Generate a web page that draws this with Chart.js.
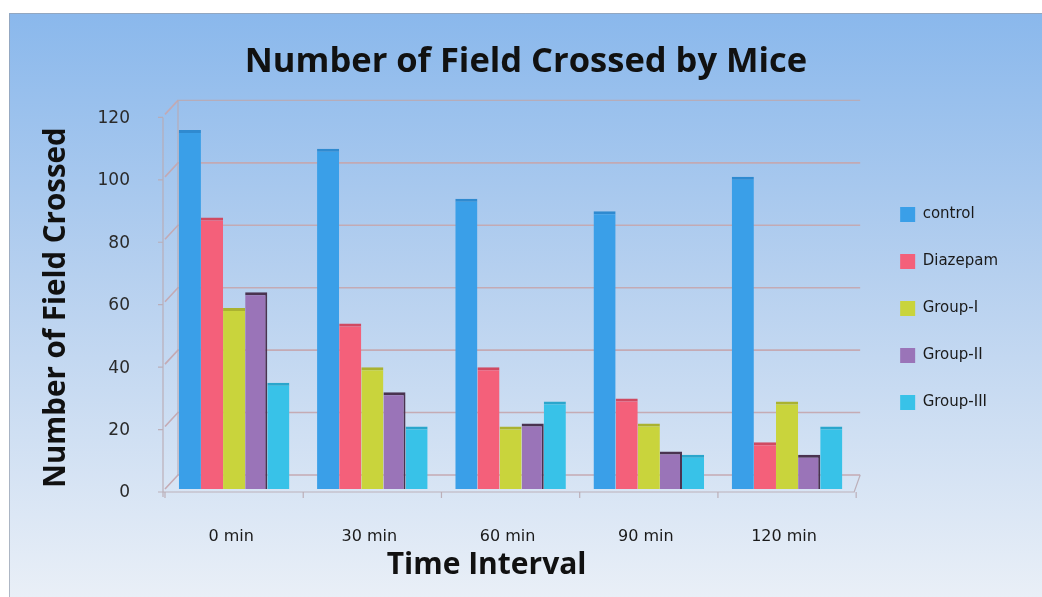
<!DOCTYPE html>
<html>
<head>
<meta charset="utf-8">
<title>Number of Field Crossed by Mice</title>
<script src="https://cdn.jsdelivr.net/npm/chart.js@4.4.1/dist/chart.umd.min.js"></script>
<style>
  html, body { margin: 0; padding: 0; background: #ffffff; overflow: hidden; }
  canvas { display: block; }
</style>
</head>
<body>
<canvas id="chart" width="1042" height="597"></canvas>
<script>
// Categories and series (number of fields crossed)
const timeLabels = ['0 min', '30 min', '60 min', '90 min', '120 min'];
const control  = [115, 109, 93, 89, 100];
const diazepam = [87, 53, 39, 29, 15];
const groupI   = [58, 39, 20, 21, 28];
const groupII  = [63, 31, 21, 12, 11];
const groupIII = [34, 20, 28, 11, 20];
const yTickValues = [0, 20, 40, 60, 80, 100, 120];

const seriesNames  = ['control', 'Diazepam', 'Group-I', 'Group-II', 'Group-III'];
const seriesData   = [control, diazepam, groupI, groupII, groupIII];
const seriesFill   = ['#3a9fe8', '#f4607a', '#c9d43c', '#9a74b8', '#38c2e8'];
const seriesTop    = ['#2f8ad0', '#d04a62', '#aab230', '#4a3350', '#2aa6cc'];

const LABEL_FONT = 'DejaVu Sans, Verdana, sans-serif';
const HEAD_FONT = '"Open Sans", Lato, sans-serif';

// Panel background: light-blue gradient fading toward the bottom
const panelBackground = {
  id: 'panelBackground',
  beforeDraw(chart) {
    const { ctx, width, height } = chart;
    ctx.save();
    ctx.fillStyle = '#ffffff';
    ctx.fillRect(0, 0, width, height);
    const g = ctx.createLinearGradient(0, 13, 0, height);
    g.addColorStop(0, '#8ab8ec');
    g.addColorStop(0.45, '#b6d0ef');
    g.addColorStop(1, '#e9eff7');
    ctx.fillStyle = g;
    ctx.fillRect(9, 13, width - 9, height - 13);
    ctx.strokeStyle = 'rgba(150,160,175,0.7)';
    ctx.lineWidth = 1;
    ctx.beginPath();
    ctx.moveTo(9.5, height);
    ctx.lineTo(9.5, 13.5);
    ctx.lineTo(width, 13.5);
    ctx.stroke();
    ctx.restore();
  }
};

// Fine placement of the side boxes: the main title is centred on the whole
// panel, the legend sits a little further right and lower, and the axis
// titles are nudged toward their printed positions.
const shiftMethod = (obj, name, dx, dy) => {
  const orig = obj[name];
  obj[name] = function () {
    this.ctx.save();
    this.ctx.translate(dx, dy);
    orig.apply(this, arguments);
    this.ctx.restore();
  };
};
const boxNudge = {
  id: 'boxNudge',
  afterLayout(chart) {
    const lg = chart.legend;
    if (lg) {
      lg.left += 12; lg.right += 12;
      lg.top += 10; lg.bottom += 10;
    }
    const tb = chart.titleBlock;
    if (tb) {
      const centre = (chart.width + 10) / 2;
      const dx = centre - (tb.left + tb.right) / 2;
      tb.left += dx; tb.right += dx;
    }
    const { x: xs, y: ys } = chart.scales;
    if (xs && !xs._titleShifted) { shiftMethod(xs, 'drawTitle', -24, 0); xs._titleShifted = true; }
    if (ys && !ys._titleShifted) { shiftMethod(ys, 'drawTitle', 0, 6); ys._titleShifted = true; }
  }
};

// Back wall, floor and gridlines drawn in a shallow 3-D perspective
const DEPTH_X = 13, DEPTH_Y = 14;
const wallGrid = {
  id: 'wallGrid',
  beforeDatasetsDraw(chart) {
    const { ctx, chartArea: a, scales: { x, y } } = chart;
    const y0 = y.getPixelForValue(0);
    const yTop = y.getPixelForValue(120);
    ctx.save();
    ctx.lineWidth = 1.6;
    ctx.strokeStyle = 'rgba(196,168,176,0.95)';
    yTickValues.forEach(v => {
      const py = y.getPixelForValue(v);
      ctx.beginPath();
      ctx.moveTo(a.left, py);
      ctx.lineTo(a.left + DEPTH_X, py - DEPTH_Y);
      if (v < 120) ctx.lineTo(a.right + 4, py - DEPTH_Y);
      ctx.stroke();
    });
    // back wall edges
    ctx.strokeStyle = 'rgba(185,170,178,0.9)';
    ctx.lineWidth = 1.2;
    ctx.beginPath();
    ctx.moveTo(a.left + DEPTH_X, y0 - DEPTH_Y);
    ctx.lineTo(a.left + DEPTH_X, yTop - DEPTH_Y);
    ctx.lineTo(a.right + 4, yTop - DEPTH_Y);
    ctx.stroke();
    // floor
    ctx.beginPath();
    ctx.moveTo(a.left - 2, y0 + 3);
    ctx.lineTo(a.right - 2, y0 + 3);
    ctx.lineTo(a.right + 4, y0 - DEPTH_Y);
    ctx.stroke();
    // front vertical axis with ticks
    ctx.beginPath();
    ctx.moveTo(a.left - 2, yTop + 3);
    ctx.lineTo(a.left - 2, y0 + 8);
    yTickValues.forEach(v => {
      const py = y.getPixelForValue(v) + 3;
      ctx.moveTo(a.left - 7, py);
      ctx.lineTo(a.left - 2, py);
    });
    // category separators under the floor
    for (let i = 0; i <= timeLabels.length; i++) {
      const px = x.getPixelForValue(i - 0.5);
      ctx.moveTo(px, y0 + 3);
      ctx.lineTo(px, y0 + 9);
    }
    ctx.stroke();
    ctx.restore();
  }
};

const datasets = seriesNames.map((name, i) => ({
  label: name,
  data: seriesData[i],
  backgroundColor: seriesFill[i],
  borderColor: seriesTop[i],
  borderWidth: { top: 3, left: 0, right: i === 3 ? 2 : 0, bottom: 0 },
  borderSkipped: 'bottom',
  categoryPercentage: 0.8,
  barPercentage: 1.0
}));

new Chart(document.getElementById('chart'), {
  type: 'bar',
  data: { labels: timeLabels, datasets },
  plugins: [panelBackground, wallGrid, boxNudge],
  options: {
    responsive: false,
    animation: false,
    devicePixelRatio: 1,
    layout: { padding: { top: 0, left: 10, right: 46, bottom: 0 } },
    plugins: {
      tooltip: { enabled: false },
      title: {
        display: true,
        text: 'Number of Field Crossed by Mice',
        color: '#111111',
        font: { family: HEAD_FONT, size: 34.5, weight: 'bold' },
        padding: { top: 41, bottom: 32 }
      },
      legend: {
        display: true,
        position: 'right',
        labels: {
          color: '#1a1a1a',
          font: { family: LABEL_FONT, size: 15 },
          boxWidth: 15,
          boxHeight: 15,
          padding: 32,
          // plain filled swatches, without the bar cap outline
          generateLabels(chart) {
            return Chart.defaults.plugins.legend.labels.generateLabels(chart)
              .map(item => Object.assign(item, { lineWidth: 0, strokeStyle: 'rgba(0,0,0,0)' }));
          }
        }
      }
    },
    scales: {
      x: {
        grid: { display: false, drawTicks: false },
        border: { display: false },
        ticks: {
          color: '#1a1a1a',
          font: { family: LABEL_FONT, size: 16 },
          padding: 38,
          labelOffset: -3,
          maxRotation: 0
        },
        title: {
          display: true,
          text: 'Time Interval',
          color: '#111111',
          font: { family: HEAD_FONT, size: 30, weight: 'bold' },
          padding: { top: 0, bottom: 14 }
        },
        afterFit(scale) { scale.height = 108; }
      },
      y: {
        min: 0,
        max: 120,
        grid: { display: false, drawTicks: false },
        border: { display: false },
        ticks: {
          stepSize: 20,
          color: '#2a2a2a',
          font: { family: LABEL_FONT, size: 17 },
          padding: 35,
          labelOffset: 4
        },
        title: {
          display: true,
          text: 'Number of Field Crossed',
          color: '#111111',
          font: { family: HEAD_FONT, size: 29.5, weight: 'bold' },
          padding: { top: 29, bottom: 0 }
        },
        afterFit(scale) { scale.width = 155; }
      }
    }
  }
});
</script>
</body>
</html>
